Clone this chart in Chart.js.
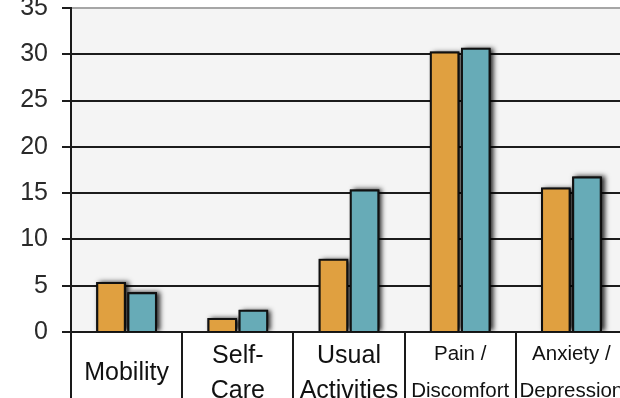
<!DOCTYPE html>
<html>
<head>
<meta charset="utf-8">
<script src="https://cdn.jsdelivr.net/npm/chart.js@4/dist/chart.umd.min.js"></script>
<style>
  html, body { margin: 0; padding: 0; width: 620px; height: 398px; overflow: hidden; background: #ffffff; }
  #wrap { position: absolute; left: 0; top: -21px; width: 650px; height: 433px; }
</style>
</head>
<body>
<div id="wrap"><canvas id="chart"></canvas></div>
<script>
// EQ-5D dimensions and the share (%) reporting problems in each group
const categories = [
  'Mobility',
  ['Self-', 'Care'],
  ['Usual', 'Activities'],
  ['Pain /', 'Discomfort'],
  ['Anxiety /', 'Depression']
];
const groupA = [5.4, 1.5, 7.9, 30.3, 15.6];
const groupB = [4.3, 2.4, 15.4, 30.7, 16.8];
const yTicks = [0, 5, 10, 15, 20, 25, 30, 35];

const FONT = "'Liberation Sans', Arial, sans-serif";

// light grey plot background behind the bars
const plotBackground = {
  id: 'plotBackground',
  beforeDraw(chart) {
    const { ctx, chartArea: a } = chart;
    ctx.save();
    ctx.fillStyle = '#f4f4f4';
    ctx.fillRect(a.left, a.top, a.right - a.left, a.bottom - a.top);
    ctx.restore();
  }
};

// soft drop shadow cast by each bar, painted just before the bars themselves
const barShadow = {
  id: 'barShadow',
  beforeDatasetsDraw(chart) {
    const { ctx, chartArea: a } = chart;
    ctx.save();
    ctx.beginPath();
    ctx.rect(a.left, a.top - 10, a.right - a.left, a.bottom - a.top + 10);
    ctx.clip();
    ctx.shadowColor = 'rgba(0,0,0,0.85)';
    ctx.shadowBlur = 5;
    ctx.shadowOffsetX = 3;
    ctx.shadowOffsetY = 0;
    ctx.fillStyle = '#000';
    chart.data.datasets.forEach((ds, i) => {
      const meta = chart.getDatasetMeta(i);
      meta.data.forEach(bar => {
        const p = bar.getProps(['x', 'y', 'base', 'width'], true);
        const top = Math.min(p.y, p.base);
        ctx.fillRect(p.x - p.width / 2, top, p.width, Math.abs(p.base - p.y));
      });
    });
    ctx.restore();
  }
};

new Chart(document.getElementById('chart'), {
  type: 'bar',
  data: {
    labels: categories,
    datasets: [
      { label: 'A', data: groupA, backgroundColor: '#e0a040', borderColor: '#111111', borderWidth: 2 },
      { label: 'B', data: groupB, backgroundColor: '#67abb7', borderColor: '#111111', borderWidth: 2 }
    ]
  },
  options: {
    responsive: true,
    maintainAspectRatio: false,
    animation: false,
    events: [],
    layout: { padding: { top: 25, left: 0, right: 23, bottom: 0 } },
    categoryPercentage: 0.56,
    barPercentage: 0.95,
    plugins: {
      legend: { display: false },
      tooltip: { enabled: false },
      title: { display: false }
    },
    scales: {
      x: {
        grid: {
          offset: true,
          drawOnChartArea: false,
          drawTicks: true,
          tickLength: 80,
          color: '#1a1a1a',
          lineWidth: 2
        },
        border: { display: true, color: '#1a1a1a', width: 2 },
        ticks: {
          autoSkip: false,
          maxRotation: 0,
          minRotation: 0,
          padding: -58,
          crossAlign: 'center',
          color: '#111111',
          font: (ctx) => ctx.index >= 3
            ? { family: FONT, size: 20.5, lineHeight: 1.8 }
            : { family: FONT, size: 25, lineHeight: 1.4 }
        },
        afterFit(scale) { scale.height = 80; }
      },
      y: {
        min: 0,
        max: 35,
        afterBuildTicks(scale) { scale.ticks = yTicks.map(v => ({ value: v })); },
        grid: {
          color: (ctx) => ctx.tick && ctx.tick.value === 35 ? '#a6a6a6' : '#1c1c1c',
          tickColor: '#1c1c1c',
          lineWidth: 2,
          tickLength: 9,
          drawTicks: true
        },
        border: { display: true, color: '#1a1a1a', width: 2 },
        ticks: {
          padding: 14,
          color: '#2a2a2a',
          font: { family: FONT, size: 25 }
        },
        afterFit(scale) { scale.width = 71; }
      }
    }
  },
  plugins: [plotBackground, barShadow]
});
</script>
</body>
</html>
